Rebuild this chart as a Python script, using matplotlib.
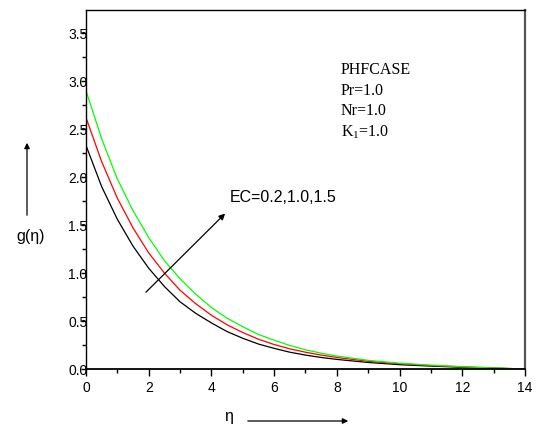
import matplotlib
matplotlib.use("Agg")
import matplotlib.pyplot as plt
from matplotlib.ticker import MultipleLocator

plt.rcParams['font.family'] = ['Liberation Sans', 'DejaVu Sans']
plt.rcParams['mathtext.fontset'] = 'custom'
plt.rcParams['mathtext.rm'] = 'Liberation Serif'

# values
eta = [0, 0.5, 1, 1.5, 2, 2.5, 3, 3.5, 4, 4.5, 5, 5.5, 6, 6.5, 7, 7.5, 8,
       9, 10, 11, 12, 13, 14]
g_ec02 = [2.33, 1.90, 1.56, 1.28, 1.05, 0.86, 0.70, 0.58, 0.48, 0.39, 0.32,
          0.26, 0.215, 0.175, 0.145, 0.12, 0.10, 0.068, 0.045, 0.030, 0.018,
          0.008, 0.0]
g_ec10 = [2.62, 2.16, 1.78, 1.47, 1.21, 1.00, 0.82, 0.68, 0.56, 0.46, 0.38,
          0.31, 0.255, 0.21, 0.175, 0.145, 0.12, 0.08, 0.055, 0.036, 0.022,
          0.01, 0.0]
g_ec15 = [2.90, 2.40, 1.98, 1.65, 1.37, 1.13, 0.94, 0.78, 0.64, 0.53, 0.44,
          0.36, 0.30, 0.245, 0.20, 0.165, 0.135, 0.09, 0.06, 0.04, 0.024,
          0.011, 0.0]
params = ["PHFCASE", "Pr=1.0", "Nr=1.0", r"K$_\mathregular{1}$=1.0"]

fig = plt.figure(figsize=(5.36, 4.26), dpi=100)
ax = fig.add_axes([0.1604, 0.1338, 0.8191, 0.8427])

ax.plot(eta, g_ec02, color="black", lw=0.9)
ax.plot(eta, g_ec10, color="#ff0000", lw=0.9)
ax.plot(eta, g_ec15, color="#00ff00", lw=0.9)

ax.set_xlim(0, 14)
ax.set_ylim(0, 3.74)
ax.xaxis.set_major_locator(MultipleLocator(2))
ax.xaxis.set_minor_locator(MultipleLocator(1))
ax.yaxis.set_major_locator(MultipleLocator(0.5))
ax.yaxis.set_minor_locator(MultipleLocator(0.25))
ax.tick_params(axis="x", which="major", direction="out", length=5, width=1,
               labelsize=10, pad=3.5)
ax.tick_params(axis="x", which="minor", direction="out", length=3, width=1)
ax.tick_params(axis="y", which="major", direction="out", length=3.5, width=1,
               labelsize=10, pad=-4.5)
ax.tick_params(axis="y", which="minor", direction="out", length=3, width=1)
ax.tick_params(top=False, right=False)

for side in ["left", "top", "bottom"]:
    ax.spines[side].set_color("black")
    ax.spines[side].set_linewidth(1.0)
ax.spines["bottom"].set_linewidth(1.3)
ax.spines["right"].set_color("#555555")
ax.spines["right"].set_linewidth(1.6)

# parameter block
for i, s in enumerate(params):
    ax.text(8.13, 3.11 - i * 0.213, s, fontsize=11.5, family="Liberation Serif",
            va="center", ha="left")

# EC arrow
ax.annotate("", xy=(4.50, 1.64), xytext=(1.85, 0.78),
            arrowprops=dict(arrowstyle="-|>", color="black", lw=0.9,
                            mutation_scale=9))
ax.text(4.59, 1.79, "EC=0.2,1.0,1.5", fontsize=11.5, va="center", ha="left")

# axis labels with arrows
fig.text(31 / 536, 189 / 426, "g(\u03b7)", fontsize=11.5, ha="center", va="center")
ax.annotate("", xy=(27, 286), xytext=(27, 208), xycoords="figure pixels",
            textcoords="figure pixels",
            arrowprops=dict(arrowstyle="-|>", color="black", lw=0.9,
                            mutation_scale=8))
fig.text(229 / 536, 10 / 426, "\u03b7", fontsize=11.5, ha="center", va="center")
ax.annotate("", xy=(351, 5), xytext=(245, 5), xycoords="figure pixels",
            textcoords="figure pixels",
            arrowprops=dict(arrowstyle="-|>", color="black", lw=0.9,
                            mutation_scale=8))

fig.savefig("out.png", dpi=100)
